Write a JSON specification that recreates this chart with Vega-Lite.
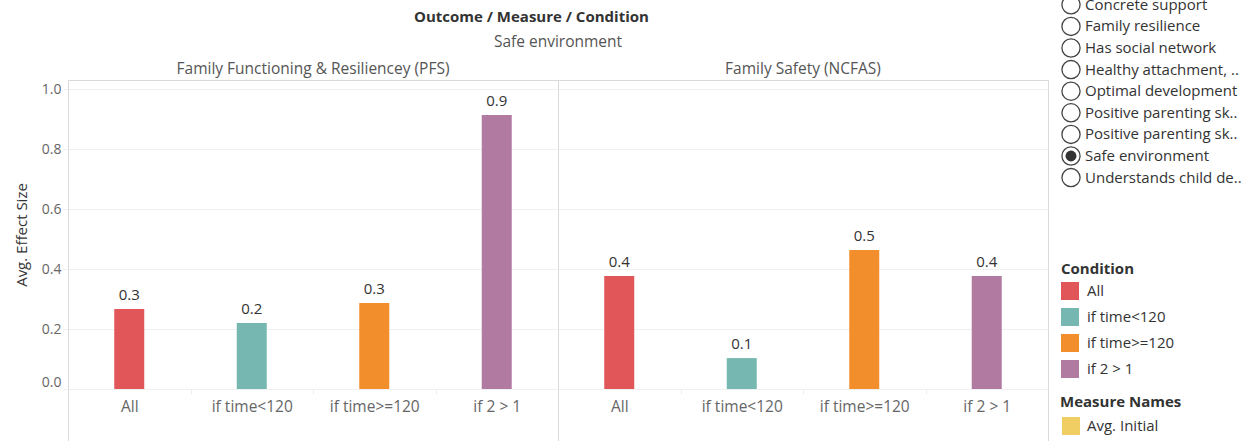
{
  "$schema": "https://vega.github.io/schema/vega-lite/v6.json",
  "padding": {"left": 14, "top": -7, "right": 0, "bottom": 0},
  "config": {
    "font": "Open Sans",
    "view": {"stroke": null}
  },
  "hconcat": [
    {
      "title": {
        "text": "Outcome / Measure / Condition",
        "fontSize": 15,
        "fontWeight": "bold",
        "color": "#333333",
        "anchor": "middle",
        "offset": 10
      },
      "data": {
        "values": [
          {"Outcome": "Safe environment", "Measure": "Family Functioning & Resiliencey (PFS)", "Condition": "All", "Effect": 0.267},
          {"Outcome": "Safe environment", "Measure": "Family Functioning & Resiliencey (PFS)", "Condition": "if time<120", "Effect": 0.22},
          {"Outcome": "Safe environment", "Measure": "Family Functioning & Resiliencey (PFS)", "Condition": "if time>=120", "Effect": 0.287},
          {"Outcome": "Safe environment", "Measure": "Family Functioning & Resiliencey (PFS)", "Condition": "if 2 > 1", "Effect": 0.913},
          {"Outcome": "Safe environment", "Measure": "Family Safety (NCFAS)", "Condition": "All", "Effect": 0.377},
          {"Outcome": "Safe environment", "Measure": "Family Safety (NCFAS)", "Condition": "if time<120", "Effect": 0.103},
          {"Outcome": "Safe environment", "Measure": "Family Safety (NCFAS)", "Condition": "if time>=120", "Effect": 0.463},
          {"Outcome": "Safe environment", "Measure": "Family Safety (NCFAS)", "Condition": "if 2 > 1", "Effect": 0.377}
        ]
      },
      "facet": {
        "column": {
          "field": "Measure",
          "type": "nominal",
          "sort": ["Family Functioning & Resiliencey (PFS)", "Family Safety (NCFAS)"],
          "title": "Safe environment",
          "header": {
            "titleFontSize": 15.5,
            "titleFontWeight": "normal",
            "titleColor": "#555555",
            "titlePadding": 1,
            "labelFontSize": 15.5,
            "labelColor": "#555555",
            "labelPadding": 3
          }
        }
      },
      "spacing": 0,
      "bounds": "flush",
      "spec": {
        "width": 490,
        "height": 309,
        "view": {"stroke": "#d9d9d9"},
        "encoding": {
          "x": {
            "field": "Condition",
            "type": "nominal",
            "sort": ["All", "if time<120", "if time>=120", "if 2 > 1"],
            "scale": {"paddingInner": 0, "paddingOuter": 0},
            "axis": {
              "title": null,
              "labelAngle": 0,
              "labelFontSize": 15.5,
              "labelColor": "#666666",
              "labelPadding": {"condition": {"test": "datum.value === 'if 2 > 1'", "value": -42}, "value": 5},
              "tickBand": "extent",
              "tickColor": {"condition": {"test": "datum.extra || datum.value === 'if 2 > 1'", "value": "#d9d9d9"}, "value": "#eeeeee"},
              "tickSize": {"condition": {"test": "datum.extra || datum.value === 'if 2 > 1'", "value": 52}, "value": 5},
              "domainColor": "#cccccc"
            }
          },
          "y": {
            "field": "Effect",
            "type": "quantitative",
            "scale": {"domain": [0, 1.03], "nice": false},
            "axis": {
              "title": "Avg. Effect Size",
              "titleFontSize": 15,
              "titleFontWeight": "normal",
              "titleColor": "#333333",
              "titlePadding": 12,
              "values": [0, 0.2, 0.4, 0.6, 0.8, 1.0],
              "format": ".1f",
              "labelFontSize": 14,
              "labelColor": "#666666",
              "labelFlush": true,
              "tickColor": "#eeeeee",
              "tickSize": 5,
              "domain": false,
              "gridColor": "#f0f0f0"
            }
          },
          "color": {
            "field": "Condition",
            "type": "nominal",
            "sort": ["All", "if time<120", "if time>=120", "if 2 > 1"],
            "scale": {
              "domain": ["All", "if time<120", "if time>=120", "if 2 > 1"],
              "range": ["#E15759", "#76B7B2", "#F28E2B", "#B07AA1"]
            },
            "legend": {
              "orient": "none",
              "legendX": 993,
              "legendY": 182,
              "title": "Condition",
              "titleFontSize": 15,
              "titleFontWeight": "bold",
              "titleColor": "#333333",
              "titlePadding": 5,
              "labelFontSize": 15,
              "labelColor": "#333333",
              "labelOffset": 8,
              "symbolType": "square",
              "symbolSize": 324,
              "symbolStrokeWidth": 0,
              "symbolOpacity": 1,
              "rowPadding": 8,
              "padding": 0
            }
          }
        },
        "layer": [
          {"mark": {"type": "bar", "width": 30}},
          {
            "mark": {"type": "text", "dy": -6, "fontSize": 15, "baseline": "bottom"},
            "encoding": {
              "text": {"field": "Effect", "type": "quantitative", "format": ".1f"},
              "color": {"value": "#333333"}
            }
          }
        ]
      }
    },
    {
      "vconcat": [
        {
          "data": {
            "values": [
              {"Outcome": "Concrete support", "Selected": false},
              {"Outcome": "Family resilience", "Selected": false},
              {"Outcome": "Has social network", "Selected": false},
              {"Outcome": "Healthy attachment, ..", "Selected": false},
              {"Outcome": "Optimal development", "Selected": false},
              {"Outcome": "Positive parenting sk..", "Selected": false},
              {"Outcome": "Positive parenting sk.. ", "Selected": false},
              {"Outcome": "Safe environment", "Selected": true},
              {"Outcome": "Understands child de..", "Selected": false}
            ]
          },
          "width": 22,
          "height": 108,
          "encoding": {
            "y": {"field": "Outcome", "type": "nominal", "sort": null, "axis": null, "scale": {"paddingInner": 0, "paddingOuter": 0, "range": [-86, 108.4]}}
          },
          "layer": [
            {"mark": {"type": "point", "shape": "circle", "size": 330, "filled": false, "fill": "#ffffff", "fillOpacity": 1, "stroke": "#444444", "strokeWidth": 1.3, "opacity": 1}},
            {"transform": [{"filter": "datum.Selected"}], "mark": {"type": "point", "shape": "circle", "size": 120, "filled": true, "color": "#333333", "opacity": 1}},
            {"mark": {"type": "text", "align": "left", "dx": 14, "fontSize": 15, "color": "#333333"}, "encoding": {"text": {"field": "Outcome"}}}
          ]
        },
        {
          "title": {"text": "Measure Names", "anchor": "start", "fontSize": 15, "fontWeight": "bold", "color": "#333333", "offset": 5},
          "data": {"values": [{"Measure Names": "Avg. Initial"}]},
          "width": 22,
          "height": 22,
          "encoding": {
            "y": {"field": "Measure Names", "type": "nominal", "axis": null}
          },
          "layer": [
            {"mark": {"type": "square", "size": 324, "opacity": 1}, "encoding": {"fill": {"field": "Measure Names", "type": "nominal", "scale": {"range": ["#F1CE63"]}, "legend": null}}},
            {"mark": {"type": "text", "align": "left", "dx": 16, "fontSize": 15, "color": "#333333"}, "encoding": {"text": {"field": "Measure Names"}}}
          ]
        }
      ],
      "spacing": 205
    }
  ],
  "spacing": 10
}
